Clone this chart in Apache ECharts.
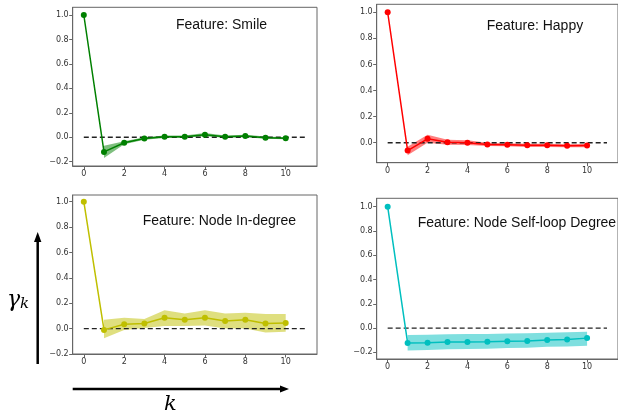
<!DOCTYPE html>
<html>
<head>
<meta charset="utf-8">
<script src="https://cdn.jsdelivr.net/npm/echarts@6/dist/echarts.min.js"></script>
<style>
  html, body { margin: 0; padding: 0; background: #fff; }
  #chart { width: 618px; height: 415px; }
</style>
</head>
<body>
<div id="chart"></div>
<script>
// lags k and the lags that carry a band
const lags = [0, 1, 2, 3, 4, 5, 6, 7, 8, 9, 10];
const bandLags = [1, 2, 3, 4, 5, 6, 7, 8, 9, 10];

// Feature: Smile
const smileMean = [1.0, -0.12, -0.045, -0.01, 0.005, 0.005, 0.02, 0.005, 0.01, -0.003, -0.008];
const smileLow = [-0.17, -0.058, -0.02, -0.005, -0.004, 0.008, -0.004, 0.0, -0.012, -0.016];
const smileHigh = [-0.07, -0.032, 0.0, 0.015, 0.014, 0.034, 0.014, 0.02, 0.006, 0.0];

// Feature: Happy
const happyMean = [1.0, -0.06, 0.03, 0.003, 0.0, -0.013, -0.015, -0.02, -0.02, -0.023, -0.022];
const happyLow = [-0.095, 0.0, -0.015, -0.018, -0.025, -0.027, -0.032, -0.032, -0.035, -0.034];
const happyHigh = [-0.03, 0.062, 0.022, 0.02, 0.0, -0.003, -0.008, -0.008, -0.011, -0.01];

// Feature: Node In-degree
const indegMean = [1.0, -0.01, 0.035, 0.04, 0.085, 0.07, 0.085, 0.06, 0.07, 0.04, 0.045];
const indegLow = [-0.075, -0.01, 0.005, 0.02, 0.02, 0.025, 0.0, 0.0, -0.03, -0.025];
const indegHigh = [0.07, 0.085, 0.075, 0.145, 0.12, 0.145, 0.12, 0.125, 0.115, 0.115];

// Feature: Node Self-loop Degree
const selfMean = [1.0, -0.123, -0.122, -0.115, -0.115, -0.113, -0.108, -0.107, -0.098, -0.095, -0.083];
const selfLow = [-0.185, -0.18, -0.175, -0.172, -0.17, -0.165, -0.162, -0.155, -0.152, -0.145];
const selfHigh = [-0.058, -0.055, -0.052, -0.05, -0.048, -0.045, -0.042, -0.038, -0.035, -0.03];

// tick labels
const xTicks = [0, 2, 4, 6, 8, 10];
const yTicksFull = [-0.2, 0, 0.2, 0.4, 0.6, 0.8, 1.0];
const yTicksNoNeg = [0, 0.2, 0.4, 0.6, 0.8, 1.0];

const zeroLine = [0, 11];

const panels = [
  { title: 'Feature: Smile', color: '#008000', mean: smileMean, low: smileLow, high: smileHigh,
    grid: { left: 72.7, top: 7.3, width: 244.3, height: 158.7 }, yMin: -0.235, yMax: 1.063, yTicks: yTicksFull,
    titlePos: [176, 27] },
  { title: 'Feature: Happy', color: '#ff0000', mean: happyMean, low: happyLow, high: happyHigh,
    grid: { left: 376.7, top: 4.3, width: 244.3, height: 158.4 }, yMin: -0.153, yMax: 1.061, yTicks: yTicksNoNeg,
    titlePos: [486.7, 27.7] },
  { title: 'Feature: Node In-degree', color: '#bfbf00', mean: indegMean, low: indegLow, high: indegHigh,
    grid: { left: 72.7, top: 195, width: 244.3, height: 159 }, yMin: -0.2, yMax: 1.053, yTicks: yTicksFull,
    titlePos: [142.7, 223] },
  { title: 'Feature: Node Self-loop Degree', color: '#00bfbf', mean: selfMean, low: selfLow, high: selfHigh,
    grid: { left: 376.7, top: 198.3, width: 244.3, height: 160.7 }, yMin: -0.255, yMax: 1.069, yTicks: yTicksFull,
    titlePos: [417.7, 225] }
];

const tickFont = { fontFamily: 'DejaVu Sans', fontSize: 8, color: '#333' };

function fmtY(v) {
  const r = Math.round(v * 10) / 10;
  return (r < 0 ? '\u2212' : '') + Math.abs(r).toFixed(1);
}

// band polygon: drawn once, from all [k, low, high] rows, through the axis scales
function bandRenderer(rows, color) {
  return function (params, api) {
    if (params.dataIndex !== 0) return null;
    const upper = rows.map(r => api.coord([r[0], r[2]]));
    const lower = rows.map(r => api.coord([r[0], r[1]])).reverse();
    return {
      type: 'polygon',
      shape: { points: upper.concat(lower) },
      style: { fill: color, opacity: 0.5 },
      silent: true
    };
  };
}

const grids = [], xAxes = [], yAxes = [], series = [], graphics = [];

panels.forEach((p, i) => {
  grids.push(Object.assign({ show: true, borderColor: '#666', borderWidth: 1, backgroundColor: 'transparent' }, p.grid));
  xAxes.push({
    type: 'value', gridIndex: i, min: -0.55, max: 11.55,
    splitLine: { show: false },
    axisLine: { show: true, onZero: false, lineStyle: { color: '#666' } },
    axisTick: { show: true, length: 3.5, lineStyle: { color: '#666' }, customValues: xTicks },
    axisLabel: Object.assign({ margin: 4, customValues: xTicks, formatter: v => String(v) }, tickFont)
  });
  yAxes.push({
    type: 'value', gridIndex: i, min: p.yMin, max: p.yMax,
    splitLine: { show: false },
    axisLine: { show: true, onZero: false, lineStyle: { color: '#666' } },
    axisTick: { show: true, length: 3.5, lineStyle: { color: '#666' }, customValues: p.yTicks },
    axisLabel: Object.assign({ margin: 4, customValues: p.yTicks, formatter: fmtY }, tickFont)
  });

  const rows = bandLags.map((k, j) => [k, p.low[j], p.high[j]]);
  series.push({
    type: 'custom', xAxisIndex: i, yAxisIndex: i,
    data: rows, encode: { x: 0, y: [1, 2] },
    renderItem: bandRenderer(rows, p.color), silent: true, z: 1
  });
  // dashed zero reference
  series.push({
    type: 'line', xAxisIndex: i, yAxisIndex: i,
    data: zeroLine.map(k => [k, 0]),
    symbol: 'none', lineStyle: { color: '#222', width: 1.3, type: [5, 3] }, silent: true, z: 2
  });
  // mean
  series.push({
    type: 'line', xAxisIndex: i, yAxisIndex: i,
    data: lags.map((k, j) => [k, p.mean[j]]),
    symbol: 'circle', symbolSize: 6,
    itemStyle: { color: p.color },
    lineStyle: { color: p.color, width: 1.5 }, z: 3
  });

  graphics.push({
    type: 'text', left: p.titlePos[0], top: p.titlePos[1] - 9,
    style: { text: p.title, font: '14px "Liberation Sans"', fill: '#111' }
  });
});

// axis arrows and symbols
graphics.push(
  { type: 'line', shape: { x1: 37.7, y1: 364, x2: 37.7, y2: 240 }, style: { stroke: '#000', lineWidth: 2.5 } },
  { type: 'polygon', shape: { points: [[37.7, 232], [34, 242], [41.4, 242]] }, style: { fill: '#000' } },
  { type: 'line', shape: { x1: 72.7, y1: 389, x2: 281, y2: 389 }, style: { stroke: '#000', lineWidth: 2.5 } },
  { type: 'polygon', shape: { points: [[289, 389], [280, 385.5], [280, 392.5]] }, style: { fill: '#000' } },
  { type: 'text', left: 7, top: 289, style: { text: '\u03b3', font: 'italic 22px "DejaVu Serif"', fill: '#000' } },
  { type: 'text', left: 20, top: 297, style: { text: 'k', font: 'italic 15px "DejaVu Serif"', fill: '#000' } },
  { type: 'text', left: 164, top: 394, style: { text: 'k', font: 'italic 21px "DejaVu Serif"', fill: '#000' } }
);

const chart = echarts.init(document.getElementById('chart'), null, { renderer: 'canvas' });
chart.setOption({
  animation: false,
  backgroundColor: '#fff',
  grid: grids,
  xAxis: xAxes,
  yAxis: yAxes,
  series: series,
  graphic: graphics
});
</script>
</body>
</html>
